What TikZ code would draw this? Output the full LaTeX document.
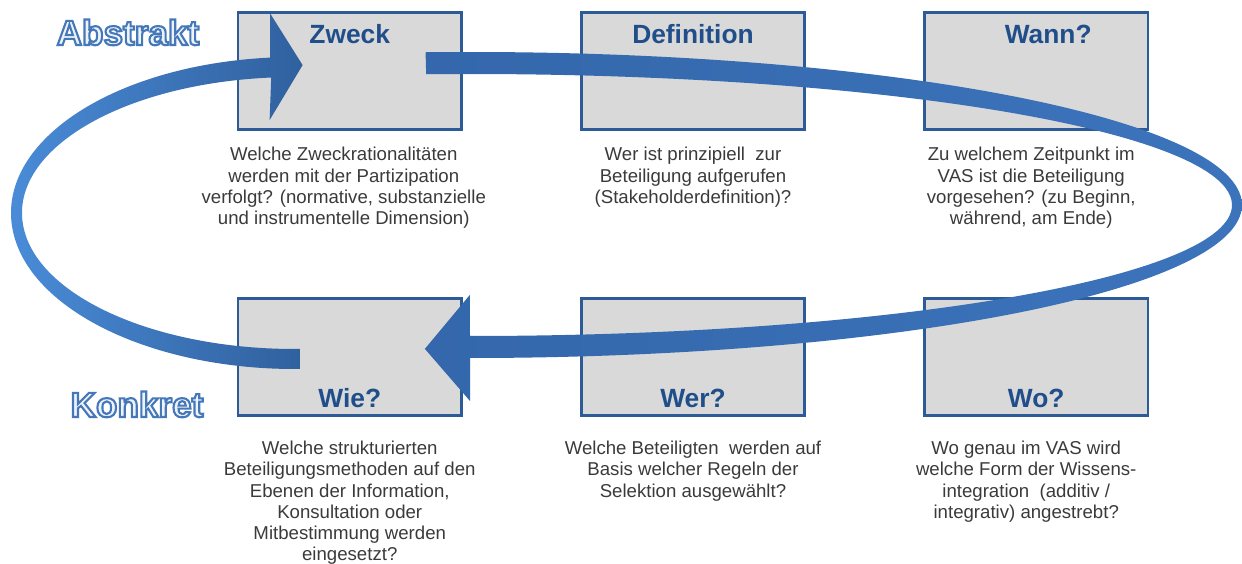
\documentclass[tikz,border=0pt]{standalone}
\usepackage{fontspec}
\setmainfont{Liberation Sans}
\usetikzlibrary{matrix,calc}

\definecolor{boxfill}{HTML}{D9D9D9}
\definecolor{boxline}{HTML}{2D5B98}
\definecolor{titleblue}{HTML}{1F4E8A}
\definecolor{txtgray}{HTML}{3A3A3A}
\definecolor{loopdark}{HTML}{30609E}
\definecolor{loopmid}{HTML}{3C74BC}
\definecolor{looplight}{HTML}{4A8CD8}
\definecolor{frontdark}{HTML}{3467AB}
\definecolor{levelfill}{HTML}{EEF3FA}

% outlined label: pale fill, blue stroke
\newcommand{\levelText}[1]{\textcolor{levelfill}{\special{pdf:literal direct 2 Tr 1.2 w 0.27 0.47 0.72 RG}#1\special{pdf:literal direct 0 Tr}}}

\tikzset{
  box/.style={draw=boxline, fill=boxfill, line width=1.6pt, minimum width=4.47cm, minimum height=2.34cm, inner sep=0pt},
  title/.style={font=\fontsize{15}{18}\selectfont\bfseries, text=titleblue, inner sep=0pt, anchor=base},
  desc/.style={font=\fontsize{10.6}{12.1}\selectfont, text=txtgray, align=center, inner sep=0pt, anchor=north},
  level/.style={font=\fontsize{20}{23}\selectfont\bfseries, inner sep=0pt, anchor=base},
  backloop/.style={left color=looplight, right color=loopdark},
  frontloop/.style={left color=frontdark, right color=loopmid},
}

\begin{document}
\begin{tikzpicture}[x=0.02cm, y=-0.02cm]
  \useasboundingbox (0,0) rectangle (1242,564);

  \matrix (m) [matrix of nodes, nodes in empty cells, nodes={box}, column sep=2.34cm, row sep=3.32cm] at (693,214)
  {
   & & \\
   & & \\
  };

  \node[title] (tZweck) at ($(m-1-1.north)+(0,32)$) {Zweck};
  \node[title] (tDef)   at ($(m-1-2.north)+(0,32)$) {Definition};
  \node[title] (tWann)  at ($(m-1-3.north)+(12,32)$) {Wann?};
  \node[title] (tWie)   at ($(m-2-1.south)+(0,-9)$) {Wie?};
  \node[title] (tWer)   at ($(m-2-2.south)+(0,-9)$) {Wer?};
  \node[title] (tWo)    at ($(m-2-3.south)+(0,-9)$) {Wo?};

  \node[desc] (dZweck) at ($(m-1-1.south)+(-6,16)$) {Welche Zweckrationalitäten\\werden mit der Partizipation\\verfolgt? (normative, substanzielle\\und instrumentelle Dimension)};
  \node[desc] (dDef)   at ($(m-1-2.south)+(0,16)$) {Wer ist prinzipiell\ \ zur\\Beteiligung aufgerufen\\(Stakeholderdefinition)?};
  \node[desc] (dWann)  at ($(m-1-3.south)+(-5,16)$) {Zu welchem Zeitpunkt im\\VAS ist die Beteiligung\\vorgesehen? (zu Beginn,\\während, am Ende)};
  \node[desc] (dWie)   at ($(m-2-1.south)+(0,24)$) {Welche strukturierten\\Beteiligungsmethoden auf den\\Ebenen der Information,\\Konsultation oder\\Mitbestimmung werden\\eingesetzt?};
  \node[desc] (dWer)   at ($(m-2-2.south)+(0,24)$) {Welche Beteiligten\ \ werden auf\\Basis welcher Regeln der\\Selektion ausgewählt?};
  \node[desc] (dWo)    at ($(m-2-3.south)+(-10,24)$) {Wo genau im VAS wird\\welche Form der Wissens-\\integration\ \ (additiv /\\integrativ) angestrebt?};

  \node[level] (abstrakt) at (128,45) {\levelText{Abstrakt}};
  \node[level] (konkret)  at (137,417) {\levelText{Konkret}};

  \coordinate (loopL) at (295,213);
  \coordinate (loopR) at (470,205);
  \coordinate (tipZ) at ($(m-1-1.west)+(66,-6)$);
  \coordinate (tipW) at ($(m-2-1.east)+(-38,-8)$);

  % Wie -> Zweck
  \shade[backloop] ([shift={(89:284 and 156)}]loopL)
    arc[start angle=89, end angle=265, x radius=284, y radius=156]
    -- ++(0,-44) -- (tipZ) -- ++(-33,55) -- ([shift={(265:273 and 136)}]loopL)
    arc[start angle=265, end angle=89, x radius=273, y radius=136] -- cycle;
  % Zweck -> Wie
  \shade[frontloop] ([shift={(-93.3:772 and 153)}]loopR)
    arc[start angle=-93.3, end angle=90, x radius=772, y radius=153]
    -- ++(0,43) -- (tipW) -- ++(45,-54) -- ([shift={(90:762 and 131)}]loopR)
    arc[start angle=90, end angle=-93.3, x radius=762, y radius=131] -- cycle;
\end{tikzpicture}
\end{document}
